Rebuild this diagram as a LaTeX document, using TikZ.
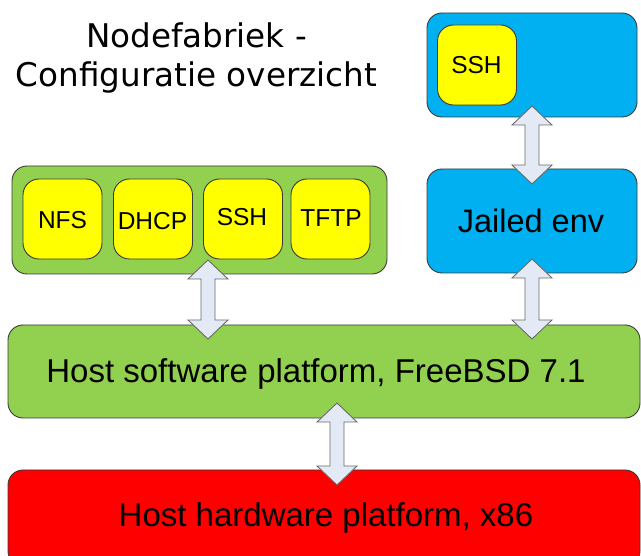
\documentclass[tikz,border=0pt]{standalone}
\usepackage{fontspec}
\setmainfont{Liberation Sans}
\newfontfamily\titlefont{DejaVu Sans}
\usetikzlibrary{calc}

\definecolor{layergreen}{HTML}{92D050}
\definecolor{jailblue}{HTML}{00B0F0}
\definecolor{serviceyellow}{HTML}{FFFF00}
\definecolor{hwred}{HTML}{FF0000}
\definecolor{boxline}{HTML}{3A3A3A}
\definecolor{arrowfill}{HTML}{E4EAF5}
\definecolor{arrowline}{HTML}{6A6A6A}

% vertical double-headed block arrow between two tip points
\newcommand\linkarrow[2]{%
  \draw[arrowbody] (#1) -- ++(20,19) -- ++(-13,0) -- ($(#2)+(7,-19)$)
    -- ++(13,0) -- (#2) -- ++(-20,-19) -- ++(13,0) -- ($(#1)+(-7,19)$)
    -- ++(-13,0) -- cycle;}

\begin{document}
\begin{tikzpicture}[x=1pt,y=-1pt,
  layerbox/.style={draw=boxline, line width=0.9pt, rounded corners=15pt,
    inner sep=0pt, outer sep=0pt},
  servicebox/.style={layerbox, fill=serviceyellow, rounded corners=16pt,
    minimum width=79pt, minimum height=80pt},
  servicetext/.style={anchor=base, inner sep=0pt, font=\fontsize{24.5}{28}\selectfont},
  bigtext/.style={anchor=base, inner sep=0pt, font=\fontsize{33}{38}\selectfont},
  arrowbody/.style={draw=arrowline, fill=arrowfill, line width=0.9pt, line join=miter}]
\useasboundingbox (0,0) rectangle (641,556);

% title
\node[align=center, inner sep=0pt, font=\titlefont\fontsize{32.6}{39}\selectfont]
  (title) at (196.5,58) {Nodefabriek -\\Configuratie overzicht};

% jailed environment with its own SSH service
\node[layerbox, fill=jailblue, minimum width=210pt, minimum height=104pt]
  (jailtop) at (532,65) {};
\node[servicebox] (jssh) at (477,65) {};
\node[servicetext] (jsshtxt) at (476.5,74) {SSH};

\node[layerbox, fill=jailblue, minimum width=210pt, minimum height=104pt]
  (jail) at (532,221) {};
\node[anchor=base, inner sep=0pt, font=\fontsize{32.5}{38}\selectfont]
  (jailtxt) at (531,233) {Jailed env};

% host services
\node[layerbox, fill=layergreen, minimum width=375pt, minimum height=108pt]
  (svc) at (199.5,220) {};
\node[servicebox] (nfs)  at (62.5,219) {};
\node[servicebox] (dhcp) at (153,219) {};
\node[servicebox] (ssh)  at (243,219) {};
\node[servicebox] (tftp) at (330.5,219) {};
\node[servicetext] at (62.5,229) {NFS};
\node[servicetext] at (152.5,229.5) {DHCP};
\node[servicetext] at (242,226) {SSH};
\node[servicetext] at (331,226.5) {TFTP};

% host software platform
\node[layerbox, fill=layergreen, minimum width=632pt, minimum height=93pt]
  (host) at (324,371.5) {};
\node[bigtext] (hosttxt) at (316,383) {Host software platform, FreeBSD 7.1};

% host hardware platform
\node[layerbox, fill=hwred, minimum width=632pt, minimum height=96pt]
  (hw) at (324,518) {};
\node[bigtext] (hwtxt) at (326,527) {Host hardware platform, x86};

% connections between layers
\linkarrow{$(jailtop.south)+(0,-11)$}{$(jail.north)+(0,15)$}
\linkarrow{$(jail.south)+(0,-14)$}{$(host.north)+(208,14)$}
\linkarrow{$(svc.south)+(8.5,-14)$}{$(host.north)+(-116,14)$}
\linkarrow{$(host.south)+(13,-15)$}{$(hw.north)+(13,15)$}
\end{tikzpicture}
\end{document}
